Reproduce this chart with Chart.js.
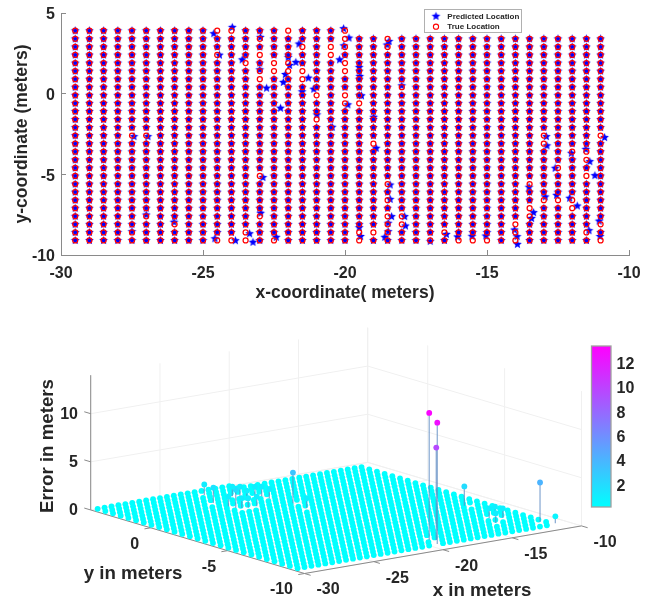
<!DOCTYPE html>
<html><head><meta charset="utf-8">
<style>
html,body{margin:0;padding:0;background:#fff;width:655px;height:599px;overflow:hidden}
canvas{position:absolute;left:0;filter:blur(0.45px)}
#top{top:0}
#bot{top:310px}
</style>
<script src="https://cdn.jsdelivr.net/npm/chart.js@4/dist/chart.umd.min.js"></script>
</head><body>
<canvas id="top" width="655" height="310"></canvas>
<canvas id="bot" width="655" height="289"></canvas>
<script>
// ---------- data ----------
const xColumns=[-29.5,-29,-28.5,-28,-27.5,-27,-26.5,-26,-25.5,-25,-24.5,-24,-23.5,-23,-22.5,-22,-21.5,-21,-20.5,-20,-19.5,-19,-18.5,-18,-17.5,-17,-16.5,-16,-15.5,-15,-14.5,-14,-13.5,-13,-12.5,-12,-11.5,-11];
const yRows=[3.9,3.4,2.9,2.4,1.9,1.4,0.9,0.4,-0.1,-0.6,-1.1,-1.6,-2.1,-2.6,-3.1,-3.6,-4.1,-4.6,-5.1,-5.6,-6.1,-6.6,-7.1,-7.6,-8.1,-8.6,-9.1];
const lastColumnWithTopRow=-20;
// [true x, true y, predicted x, predicted y]
const displaced=[
[-24.5,3.9,-24.62,3.72],[-24,3.9,-23.97,4.11],[-24.5,2.4,-24.42,2.39],[-23.5,1.9,-23.62,2.10],
[-23,3.4,-22.98,3.49],[-23,1.4,-23,1.48],[-23,2.4,-22.76,0.34],[-23,0.9,-22.17,0.70],
[-22,3.9,-22.1,1.19],[-22.5,1.9,-22.27,-0.9],[-22.5,1.4,-22.0,2.25],[-22,1.4,-21.73,1.94],
[-21.5,2.9,-21.62,3.08],[-22,1.9,-21.95,1.75],[-21.5,1.4,-21.29,0.97],[-21.5,0.9,-21.51,0.12],
[-21,-0.1,-21.1,0.28],[-21,-1.6,-20.99,-1.31],[-20.5,2.9,-19.5,1.63],[-20.5,2.4,-20.45,-2.08],
[-20,1.9,-20.19,2.10],[-20,1.4,-19.48,1.07],[-20,3.9,-20.05,4.03],[-20,3.4,-19.86,3.45],
[-20,2.9,-20.04,2.97],[-20,-0.1,-19.42,-0.13],[-20,-0.6,-19.9,-0.69],[-19.5,-0.6,-18.99,-1.46],
[-19,-3.1,-18.9,-3.38],[-18.5,3.4,-18.45,3.24],[-18.5,2.9,-18.52,3.02],[-18,0.4,-18.0,0.49],
[-18.5,-2.1,-18.5,-2.08],[-18.5,-5.6,-18.41,-5.66],[-18.5,-6.6,-18.41,-6.55],[-18.5,-7.6,-18.36,-7.62],
[-18.5,-8.1,-18.48,-8.03],[-18,-7.6,-17.9,-7.62],[-18,-8.1,-17.87,-8.2],[-18.5,-8.6,-18.48,-8.55],
[-19,-8.6,-18.6,-8.9],[-19.5,-8.6,-19.5,-8.3],[-19.5,-9.1,-19.45,-8.85],
[-17,-9.1,-17,-9.15],[-16.5,-8.6,-16.43,-8.72],[-16,-9.1,-16.04,-8.88],[-15.5,-9.1,-15.53,-8.84],
[-15,-9.1,-15.04,-8.82],[-14,-8.1,-14.03,-8.45],[-14,-8.6,-13.94,-8.86],[-14,-9.1,-13.93,-9.34],
[-13.5,-5.6,-13.52,-5.8],[-13.5,-7.1,-13.36,-7.37],[-13.5,-7.6,-13.43,-7.73],[-13,-2.6,-12.91,-2.66],
[-13,-3.1,-12.89,-3.23],[-12.5,-4.6,-12.6,-4.62],[-12,-3.6,-12.03,-3.69],[-11.5,-3.6,-11.52,-3.45],
[-11.5,-4.1,-11.38,-4.21],[-11.5,-5.1,-11.2,-5.08],[-12,-6.6,-12.09,-6.48],[-12,-7.1,-11.82,-6.96],
[-13,-6.6,-12.95,-6.4],[-12.5,-6.6,-12.55,-6.3],[-11,-2.6,-10.86,-2.72],[-11.5,-8.6,-11.41,-8.49],
[-11,-8.1,-11.05,-7.9],[-11,-9.1,-11.02,-8.85],
[-24.5,-9.1,-24.58,-8.99],[-24,-9.1,-23.86,-9.11],[-23.5,-8.6,-23.36,-8.68],[-23.5,-9.1,-23.24,-9.21],
[-23,-5.1,-22.89,-5.2],[-23,-7.6,-22.97,-7.41],[-22.5,-9.1,-22.42,-8.9],[-27,-7.6,-27,-7.52],
[-26,-8.1,-26.02,-7.97],[-27.5,-8.6,-27.5,-8.55],[-27,-2.6,-26.94,-2.66],[-27.5,-2.6,-27.43,-2.66]
];
// [x, y, error] for locations that rise out of the floor of the lower plot
const raised=[
[-19.14,-8.33,13.2],[-19.38,-9.07,12.6],[-18.82,-8.5,9.6],[-12.24,-4.4,2],[-11.25,-8.43,4.07],
[-10.8,-9.02,0.73],[-19.73,0,3.2],[-22.5,3.27,1.1],[-23.32,1.94,1.6],[-23.06,0.72,1.9],
[-21.42,2.42,1],[-21.07,2.24,1],[-21.37,1.53,1],[-20.38,1.88,1],[-20.08,1.72,1],[-20.08,1.22,1],
[-22.47,0.44,1],[-22.77,0.59,1],[-23.13,1.13,1],[-21.83,0.46,1],[-19.8,-0.95,1],
[-13,-6.7,1],[-12.48,-6.61,1],[-12.37,-7.02,1],[-13.46,-7.54,1]
];
const xTicks3d=[-30,-25,-20,-15,-10];
const yTicks3d=[0,-5,-10];
const zTicks3d=[0,5,10];
const colorbarTicks=[2,4,6,8,10,12];
const colorbarRange=[0.19,13.4];
const FONT='"Liberation Sans"';
Chart.defaults.font.family=FONT;
const INK='#262626', AXIS='#8a8a8a';

// ---------- build point lists ----------
const grid=[];
for(const x of xColumns)for(const y of yRows){
  if(y===yRows[0]&&x>lastColumnWithTopRow)continue;
  grid.push({x,y});
}
const same=(a,b)=>Math.abs(a-b)<1e-6;
const trueLocs=grid;
const predicted=grid.filter(p=>!displaced.some(d=>same(d[0],p.x)&&same(d[1],p.y)))
  .concat(displaced.map(d=>({x:d[2],y:d[3]})));

// ---------- markers ----------
function starCanvas(R,color){
  const s=Math.ceil(R*2)+3,c=document.createElement('canvas');c.width=c.height=s;
  const g=c.getContext('2d');g.fillStyle=color;g.beginPath();
  for(let i=0;i<10;i++){
    const r=i%2?R*0.45:R,a=-Math.PI/2+i*Math.PI/5;
    g.lineTo(s/2+r*Math.cos(a),s/2+r*Math.sin(a));
  }
  g.closePath();g.fill();return c;
}
const star=starCanvas(4.6,'#0000ff');

const legendBox={id:'legendBox',afterDraw(ch){
  const c=ch.ctx;c.save();
  c.fillStyle='#fff';c.strokeStyle='#b0b0b0';c.lineWidth=1;
  c.fillRect(424.5,9.5,97,23);c.strokeRect(424.5,9.5,97,23);
  c.drawImage(star,436-star.width/2,16.3-star.height/2);
  c.strokeStyle='#ff0000';c.lineWidth=1.1;c.beginPath();c.arc(436,26.7,2.6,0,Math.PI*2);c.stroke();
  c.fillStyle=INK;c.font='bold 8px '+FONT;c.textBaseline='middle';c.textAlign='left';
  c.fillText('Predicted Location',447.3,16.5);c.fillText('True Location',447.3,27);
  c.restore();
}};

const tickFont={size:16,weight:'bold',family:FONT};
const titleFont={size:17.5,weight:'bold',family:FONT};
new Chart(document.getElementById('top'),{
  type:'scatter',
  data:{datasets:[
    {label:'Predicted Location',data:predicted,pointStyle:star,pointRadius:4,order:2},
    {label:'True Location',data:trueLocs,pointStyle:'circle',pointRadius:2.5,pointBorderColor:'#ff0000',pointBackgroundColor:'rgba(0,0,0,0)',pointBorderWidth:1.25,borderColor:'#ff0000',order:1}
  ]},
  options:{responsive:false,animation:false,devicePixelRatio:1,
    layout:{autoPadding:false,padding:{top:13,right:26,left:0,bottom:0}},
    plugins:{legend:{display:false},tooltip:{enabled:false}},
    scales:{
      x:{type:'linear',min:-30,max:-10,afterFit(s){s.height=55;s.paddingLeft=0;s.paddingRight=0},
        ticks:{stepSize:5,font:tickFont,color:INK,padding:14,maxRotation:0,autoSkip:false},
        grid:{drawOnChartArea:false,drawTicks:true,tickLength:-5,tickColor:AXIS},
        border:{color:AXIS},
        title:{display:true,text:'x-coordinate( meters)',font:titleFont,color:INK,padding:{top:0,bottom:6}}},
      y:{type:'linear',min:-10,max:5,afterFit(s){s.width=61;s.paddingTop=0;s.paddingBottom=0},
        ticks:{stepSize:5,font:tickFont,color:INK,padding:11,autoSkip:false,labelOffset:2},
        grid:{drawOnChartArea:false,drawTicks:true,tickLength:-5,tickColor:AXIS},
        border:{color:AXIS},
        title:{display:true,text:'y-coordinate (meters)',font:titleFont,color:INK,padding:{top:12,bottom:0}}}
    }
  },
  plugins:[legendBox]
});

// ---------- lower plot: orthographic view of (x, y, error) ----------
const proj=(x,y,z)=>({
  x:304.5+13.85*(x+30)-15.38*(y+10),
  y:573.5-2.38*(x+30)-4.57*(y+10)-9.63*z
});
const X0=-30,X1=-10,Y0=-10,Y1=3.9,Z1=14;
const cool=z=>{
  const t=Math.min(1,Math.max(0,(z-colorbarRange[0])/(colorbarRange[1]-colorbarRange[0])));
  return [Math.round(255*t),Math.round(255*(1-t)),255];
};
const rgb=(a,al=1)=>`rgba(${a[0]},${a[1]},${a[2]},${al})`;
const nearest=v=>{
  let d=1e9,b=null;for(const p of grid){const e=Math.hypot(p.x-v[0],p.y-v[1]);if(e<d){d=e;b=p}}return b;
};
const lifted=new Set(raised.map(nearest));
const floorPts=grid.filter(p=>!lifted.has(p)).map(p=>proj(p.x,p.y,0));
const raisedPts=raised.map(r=>proj(r[0],r[1],r[2]));
const raisedCols=raised.map(r=>rgb(cool(r[2])));

function seg(c,s,a,b){const p=s.x.getPixelForValue(a.x),q=s.y.getPixelForValue(a.y),r=s.x.getPixelForValue(b.x),t=s.y.getPixelForValue(b.y);
  c.beginPath();c.moveTo(p,q);c.lineTo(r,t);c.stroke();}
const P=(x,y,z)=>proj(x,y,z);
const walls={id:'walls',beforeDatasetsDraw(ch){
  const c=ch.ctx,s=ch.scales;c.save();
  c.strokeStyle='#f0f0f0';c.lineWidth=1;
  for(const x of xTicks3d){seg(c,s,P(x,Y1,0),P(x,Y1,Z1));seg(c,s,P(x,Y0,0),P(x,Y1,0));}
  for(const y of [Y1].concat(yTicks3d)){seg(c,s,P(X1,y,0),P(X1,y,Z1));seg(c,s,P(X0,y,0),P(X1,y,0));}
  for(const z of zTicks3d){seg(c,s,P(X0,Y1,z),P(X1,Y1,z));seg(c,s,P(X1,Y1,z),P(X1,Y0,z));}
  c.strokeStyle=AXIS;
  seg(c,s,P(X0,Y1,0),P(X0,Y1,Z1));
  seg(c,s,P(X0,Y1,0),P(X0,Y0,0));
  seg(c,s,P(X0,Y0,0),P(X1,Y0,0));
  for(const z of zTicks3d)seg(c,s,P(X0,Y1,z),P(X0,Y1+0.42,z));
  for(const y of yTicks3d)seg(c,s,P(X0,y,0),P(X0-0.45,y,0));
  for(const x of xTicks3d)seg(c,s,P(x,Y0,0),P(x,Y0-0.4,0));
  c.restore();
},afterDatasetsDraw(ch){
  const c=ch.ctx,s=ch.scales;c.save();
  // stems
  c.lineWidth=1.3;
  raised.forEach(r=>{c.strokeStyle='rgba(95,140,195,0.7)';seg(c,s,P(r[0],r[1],0),P(r[0],r[1],r[2]));});
  // redraw the raised heads above the stems
  raised.forEach((r,i)=>{const q=raisedPts[i];c.fillStyle=raisedCols[i];c.beginPath();
    c.arc(s.x.getPixelForValue(q.x),s.y.getPixelForValue(q.y),2.9,0,Math.PI*2);c.fill();});
  // colorbar
  const Y=v=>s.y.getPixelForValue(v),cbTop=346,cbBot=507,cbL=591.5,cbR=611;
  const g=c.createLinearGradient(0,Y(cbBot),0,Y(cbTop));
  g.addColorStop(0,rgb(cool(colorbarRange[0])));g.addColorStop(1,rgb(cool(colorbarRange[1])));
  c.fillStyle=g;c.fillRect(cbL,Y(cbTop),cbR-cbL,Y(cbBot)-Y(cbTop));
  c.strokeStyle='#a0a0a0';c.strokeRect(cbL,Y(cbTop),cbR-cbL,Y(cbBot)-Y(cbTop));
  // text
  c.fillStyle=INK;c.font='bold 16px '+FONT;c.textBaseline='middle';
  c.textAlign='left';
  for(const v of colorbarTicks){
    const py=cbBot-(v-colorbarRange[0])/(colorbarRange[1]-colorbarRange[0])*(cbBot-cbTop);
    c.fillText(String(v),616.5,Y(py)+1.5);
  }
  c.textAlign='right';
  for(const z of zTicks3d){const q=P(X0,Y1,z);c.fillText(String(z),78,Y(q.y)+0.5);}
  yTicks3d.forEach(v=>{const q=P(X0,v,0);c.fillText(String(v),q.x-11.5,Y(q.y)+16.5);});
  c.textAlign='center';
  xTicks3d.forEach(v=>{const q=P(v,Y0,0);c.fillText(String(v),q.x+23.5,Y(q.y)+16.5);});
  c.font='bold 18.7px '+FONT;
  c.fillText('y in meters',133,Y(574));
  c.fillText('x in meters',482,Y(590.5));
  c.translate(47.5,Y(446));c.rotate(-Math.PI/2);c.fillText('Error in meters',0,0);
  c.restore();
}};
new Chart(document.getElementById('bot'),{
  type:'scatter',
  data:{datasets:[
    {label:'error',data:floorPts,pointRadius:2.9,pointBackgroundColor:'#00ffff',pointBorderWidth:0,clip:false}
  ]},
  options:{responsive:false,animation:false,devicePixelRatio:1,
    layout:{autoPadding:false,padding:0},
    plugins:{legend:{display:false},tooltip:{enabled:false}},
    scales:{
      x:{type:'linear',min:0,max:655,display:false},
      y:{type:'linear',min:310,max:599,reverse:true,display:false}
    }
  },
  plugins:[walls]
});
</script>
</body></html>
